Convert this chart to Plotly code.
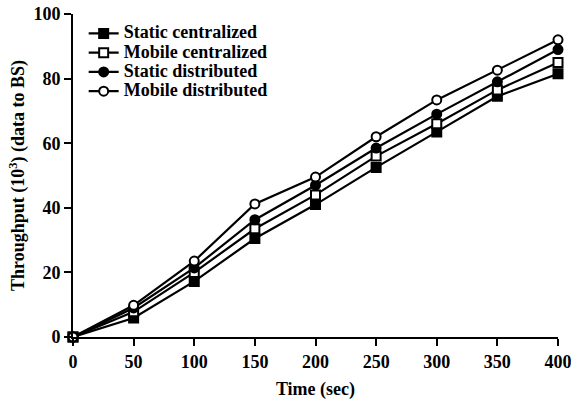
import plotly.graph_objects as go

time = [0, 50, 100, 150, 200, 250, 300, 350, 400]
static_centralized = [0, 5.9, 17.2, 30.5, 41, 52.5, 63.5, 74.5, 81.5]
mobile_centralized = [0, 7.8, 20.0, 33.5, 44, 56, 66, 76.5, 85]
static_distributed = [0, 9.0, 21.4, 36.3, 47, 58.5, 69, 79, 89]
mobile_distributed = [0, 9.8, 23.5, 41.2, 49.5, 62, 73.4, 82.6, 92]

series = [
    ("Static centralized", static_centralized, "square", "black"),
    ("Mobile centralized", mobile_centralized, "square", "white"),
    ("Static distributed", static_distributed, "circle", "black"),
    ("Mobile distributed", mobile_distributed, "circle", "white"),
]

FAM = "Liberation Serif"
fig = go.Figure()
for name, vals, sym, fill in series:
    fig.add_trace(go.Scatter(
        x=time, y=vals, mode="lines+markers", cliponaxis=False,
        name=f'<b><span style="font-size:18px">{name}</span></b>',
        line=dict(color="black", width=2.2),
        marker=dict(symbol=sym, size=9, color=fill, line=dict(color="black", width=2)),
    ))

fig.update_layout(
    width=571, height=403,
    margin=dict(l=73, r=13, t=14, b=66),
    paper_bgcolor="white", plot_bgcolor="white",
    font=dict(family=FAM, size=18, color="black"),
    showlegend=True,
    legend=dict(x=0.022, y=0.985, xanchor="left", yanchor="top",
                bgcolor="rgba(0,0,0,0)", tracegroupgap=0,
                font=dict(family=FAM, size=12.5, color="black"),
                itemwidth=30),
)
fig.update_xaxes(
    range=[0, 400], tickvals=time, ticktext=[f"<b>{t}</b>" for t in time],
    showline=True, linecolor="black", linewidth=2,
    ticks="outside", ticklen=7, tickwidth=2, tickcolor="black",
    showgrid=False, zeroline=False, automargin=False, ticklabeloverflow="allow",
    tickfont=dict(family=FAM, size=18),
    title=dict(text="<b>Time (sec)</b>", standoff=12, font=dict(family=FAM, size=18)),
)
yt = [0, 20, 40, 60, 80, 100]
fig.update_yaxes(
    range=[0, 100], tickvals=yt, ticktext=[f"<b>{t}</b>" for t in yt],
    showline=True, linecolor="black", linewidth=2,
    ticks="outside", ticklen=7, tickwidth=2, tickcolor="black",
    showgrid=False, zeroline=False, automargin=False, ticklabeloverflow="allow",
    tickfont=dict(family=FAM, size=18),
    title=dict(text="<b>Throughput (10<sup>3</sup>) (data to BS)</b>", standoff=4,
               font=dict(family=FAM, size=18)),
)
fig.write_html(
    "out.html",
    config={"displayModeBar": False},
    post_script="document.body.style.margin='0';document.body.style.overflow='hidden';",
)
